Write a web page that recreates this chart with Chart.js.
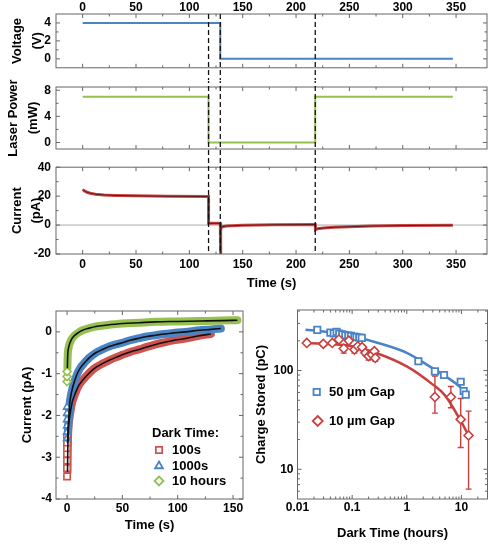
<!DOCTYPE html>
<html><head><meta charset="utf-8">
<script src="https://cdn.jsdelivr.net/npm/chart.js@4.4.1/dist/chart.umd.min.js"></script>
<style>
html,body{margin:0;padding:0;background:#fff}
body{width:500px;height:550px;position:relative;overflow:hidden}
canvas{position:absolute}
</style></head><body>
<canvas id="c1" width="500" height="80" style="left:0;top:0"></canvas>
<canvas id="c2" width="500" height="100" style="left:0;top:70px"></canvas>
<canvas id="c3" width="500" height="140" style="left:0;top:155px"></canvas>
<canvas id="c4" width="250" height="255" style="left:0;top:295px"></canvas>
<canvas id="c5" width="250" height="255" style="left:250px;top:295px"></canvas>
<script>
// ---------------- DATA ----------------
const timeTicks = [0, 50, 100, 150, 200, 250, 300, 350];
const timeMinor = [25, 75, 125, 175, 225, 275, 325];
const switchTimes = [118, 129, 218];

const voltT = [0, 129, 129, 347];
const voltV = [4, 4, 0, 0];

const laserT = [0, 118, 118, 218, 218, 347];
const laserV = [7, 7, 0, 0, 7, 7];

const curT = [0, 3, 7, 12, 20, 30, 50, 80, 118, 118, 129, 129.1, 129.6, 130.5, 135, 150, 180, 218, 218.2, 220, 226, 236, 250, 270, 300, 347];
const curV = [24.5, 23, 22, 21.3, 20.8, 20.5, 20.2, 19.9, 19.7, 1.2, 1.2, -22, -3, -1.1, -0.6, -0.2, 0.2, 0.4, -3.2, -2.5, -2, -1.5, -1.1, -0.7, -0.35, -0.1];

// bottom-left: decay currents
const darkT = [0, 50, 100, 150];
const red0 = [-3.46, -3.26, -3.08, -2.92, -2.78, -2.65, -2.52];
const redT = [0.4, 0.6, 0.9, 1.4, 2.2, 3.3, 4.5, 6.3, 8.5, 10.9, 14, 17, 21, 26, 32, 38, 44, 50, 57, 65, 72, 80, 88, 95, 107, 118, 130];
const redV = [-3.35, -2.9, -2.5, -2.25, -2.05, -1.87, -1.7, -1.55, -1.4, -1.27, -1.16, -1.07, -0.96, -0.85, -0.76, -0.68, -0.61, -0.55, -0.48, -0.42, -0.36, -0.3, -0.25, -0.21, -0.16, -0.1, -0.05];
const blue0 = [-2.55, -2.4, -2.25, -2.1, -1.95, -1.8];
const blueT = [0.4, 0.7, 1.2, 1.8, 2.4, 3.5, 4.9, 7, 9.4, 12, 15.4, 20, 26, 32, 38, 44, 50, 57, 65, 72, 80, 88, 95, 107, 120, 130, 139];
const blueV = [-2.66, -2.4, -2.19, -1.93, -1.71, -1.52, -1.35, -1.16, -0.99, -0.86, -0.75, -0.62, -0.5, -0.42, -0.35, -0.3, -0.26, -0.2, -0.15, -0.11, -0.08, -0.05, -0.03, 0, 0.04, 0.06, 0.08];
const green0 = [-1.19, -1.07, -0.95];
const greenT = [0.3, 0.6, 1.2, 2.4, 4, 6.3, 10, 14, 20, 26, 35, 50, 65, 80, 100, 120, 140, 154];
const greenV = [-0.87, -0.55, -0.4, -0.28, -0.18, -0.1, -0.02, 0.04, 0.09, 0.13, 0.16, 0.2, 0.22, 0.24, 0.25, 0.26, 0.27, 0.28];

// bottom-right: charge stored
const gapX = [0.023, 0.04, 0.046, 0.052, 0.058, 0.066, 0.075, 0.085, 0.095, 0.11, 0.12, 0.135, 0.15, 1.63, 3.27, 4.8, 9.7, 11, 12];
const gap50 = [258, 242, 238, 246, 236, 232, 228, 226, 224, 220, 218, 216, 214, 124, 98, 90, 77, 62, 57];
const fit50X = [0.014, 0.03, 0.1, 0.3, 1, 3, 5, 10, 13.5];
const fit50Y = [259, 248, 222, 190, 151, 105, 88, 66, 53];
const gap10X = [0.0148, 0.0297, 0.0433, 0.0573, 0.0703, 0.087, 0.11, 0.127, 0.152, 0.175, 0.2, 0.23, 0.255, 0.265, 3.27, 6.4, 9.7, 13.5];
const gap10 = [190, 186, 190, 206, 167, 201, 163, 176, 172, 151, 140, 145, 157, 134, 54, 54, 32, 22];
const gap10Lo = [181, 178, 182, 197, 150, 191, 150, 167, 163, 142, 128, 136, 148, 124, 37, 42, 16.6, 6.3];
const gap10Hi = [199, 194, 198, 215, 183, 211, 176, 185, 181, 160, 152, 154, 166, 145, 88, 69, 52, 38.8];
const fit10X = [0.013, 0.03, 0.1, 0.3, 1, 3, 5, 10, 13.5];
const fit10Y = [190, 187, 176, 148, 110, 72, 56, 30, 22];
const logXTicks = [0.01, 0.1, 1, 10];
const logXMinor = [0.02,0.03,0.04,0.05,0.06,0.07,0.08,0.09,0.2,0.3,0.4,0.5,0.6,0.7,0.8,0.9,2,3,4,5,6,7,8,9,20];
const logYTicks = [10, 100];
const logYMinor = [6,7,8,9,20,30,40,50,60,70,80,90,200,300,400];

// ---------------- HELPERS ----------------
const FONT = "'Liberation Sans', Arial, Helvetica, sans-serif";
const pts = (xs, ys) => xs.map((x, i) => ({x: x, y: ys[i]}));
const col = (x, ys) => ys.map(y => ({x: x, y: y}));
const setTicks = vals => s => { s.ticks = vals.map(v => ({value: v})); };
const tickFont = {family: FONT, size: 12, weight: 'bold'};
const titleFont = {family: FONT, size: 13, weight: 'bold'};

const RED = '#c8403f', BLUE = '#4a84c6', GREEN = '#96c150';

function drawMarker(ctx, style, color, x, y, r) {
  ctx.save();
  ctx.strokeStyle = color; ctx.fillStyle = '#fff'; ctx.lineWidth = 1.8;
  ctx.beginPath();
  if (style === 'rect') { const s = r * Math.SQRT1_2; ctx.rect(x - s, y - s, 2 * s, 2 * s); }
  else if (style === 'triangle') { ctx.moveTo(x, y - r); ctx.lineTo(x + r * 0.866, y + r * 0.5); ctx.lineTo(x - r * 0.866, y + r * 0.5); ctx.closePath(); }
  else { ctx.moveTo(x, y - r); ctx.lineTo(x + r, y); ctx.lineTo(x, y + r); ctx.lineTo(x - r, y); ctx.closePath(); }
  ctx.fill(); ctx.stroke();
  ctx.restore();
}

const framePlugin = {
  id: 'frame',
  beforeDatasetsDraw(chart, args, o) {
    if (o.zero === undefined) return;
    const {ctx, chartArea: a} = chart;
    const y = chart.scales.y.getPixelForValue(o.zero);
    ctx.save(); ctx.strokeStyle = '#aaa'; ctx.lineWidth = 1;
    ctx.beginPath(); ctx.moveTo(a.left, y); ctx.lineTo(a.right, y); ctx.stroke(); ctx.restore();
  },
  afterDatasetsDraw(chart, args, o) {
    const {ctx, chartArea: a} = chart, sx = chart.scales.x, sy = chart.scales.y;
    ctx.save(); ctx.strokeStyle = '#666'; ctx.lineWidth = 1;
    ctx.beginPath();
    const tx = (vals, len) => vals.forEach(v => { const x = sx.getPixelForValue(v);
      ctx.moveTo(x, a.bottom); ctx.lineTo(x, a.bottom - len); ctx.moveTo(x, a.top); ctx.lineTo(x, a.top + len); });
    const ty = (vals, len) => vals.forEach(v => { const y = sy.getPixelForValue(v);
      ctx.moveTo(a.left, y); ctx.lineTo(a.left + len, y); ctx.moveTo(a.right, y); ctx.lineTo(a.right - len, y); });
    tx(o.xMajor || [], 4); tx(o.xMinor || [], 2.5); ty(o.yMajor || [], 4); ty(o.yMinor || [], 2.5);
    ctx.stroke();
    ctx.strokeRect(a.left, a.top, a.right - a.left, a.bottom - a.top);
    ctx.restore();
  }
};

const dashPlugin = {
  id: 'dashes',
  afterDatasetsDraw(chart, args, o) {
    if (!o.xs) return;
    const ctx = chart.ctx, sx = chart.scales.x;
    ctx.save(); ctx.strokeStyle = '#111'; ctx.lineWidth = 1.3;
    ctx.setLineDash([5, 3]); ctx.lineDashOffset = o.phase || 0;
    o.xs.forEach(v => { const x = sx.getPixelForValue(v);
      ctx.beginPath(); ctx.moveTo(x, o.from); ctx.lineTo(x, o.to); ctx.stroke(); });
    ctx.restore();
  }
};

const errPlugin = {
  id: 'errbars',
  beforeDatasetsDraw(chart, args, o) {
    if (!o.x) return;
    const ctx = chart.ctx, sx = chart.scales.x, sy = chart.scales.y, a = chart.chartArea;
    ctx.save(); ctx.strokeStyle = o.color; ctx.lineWidth = 1.4;
    ctx.beginPath(); ctx.rect(a.left, a.top, a.right - a.left, a.bottom - a.top); ctx.clip();
    ctx.beginPath();
    o.x.forEach((xv, i) => {
      if (o.lo[i] === o.hi[i]) return;
      const x = sx.getPixelForValue(xv), y1 = sy.getPixelForValue(o.lo[i]), y2 = sy.getPixelForValue(o.hi[i]);
      ctx.moveTo(x, y1); ctx.lineTo(x, y2);
      ctx.moveTo(x - 3, y1); ctx.lineTo(x + 3, y1);
      ctx.moveTo(x - 3, y2); ctx.lineTo(x + 3, y2);
    });
    ctx.stroke(); ctx.restore();
  }
};

const legendPlugin = {
  id: 'legendBox',
  afterDatasetsDraw(chart, args, o) {
    if (!o.items) return;
    const ctx = chart.ctx;
    ctx.save(); ctx.font = 'bold 13px ' + FONT; ctx.textBaseline = 'middle'; ctx.fillStyle = '#000';
    o.items.forEach(it => {
      if (it.marker) drawMarker(ctx, it.marker, it.color, it.mx, it.y, it.r);
      ctx.fillStyle = '#000'; ctx.fillText(it.text, it.x, it.y);
    });
    ctx.restore();
  }
};

const plugins = [framePlugin, dashPlugin, errPlugin, legendPlugin];

function baseScale(extra) {
  return Object.assign({
    grid: {display: false, drawTicks: false},
    border: {display: false},
  }, extra);
}

function lineDs(data, color, width, order) {
  return {data: data, showLine: true, borderColor: color, backgroundColor: color, borderWidth: width,
    pointRadius: 0, tension: 0, order: order || 0};
}

function common(padding, scales, pluginOpts) {
  return {
    responsive: false, animation: false, devicePixelRatio: 1,
    layout: {padding: padding},
    plugins: Object.assign({legend: {display: false}, tooltip: {enabled: false}}, pluginOpts),
    scales: scales,
    events: []
  };
}

// ---------------- PANEL 1: Voltage ----------------
new Chart(document.getElementById('c1'), {
  type: 'scatter',
  data: {datasets: [lineDs(pts(voltT, voltV), BLUE, 2)]},
  options: common({left: 0, right: 13, top: 0, bottom: 6}, {
    x: baseScale({type: 'linear', position: 'top', min: -25, max: 379,
      afterBuildTicks: setTicks(timeTicks), afterFit: s => { s.height = 14; },
      ticks: {font: tickFont, color: '#000', padding: -1, maxRotation: 0, autoSkip: false}}),
    y: baseScale({type: 'linear', min: -1, max: 5,
      afterBuildTicks: setTicks([0, 2, 4]), afterFit: s => { s.width = 56; },
      ticks: {font: tickFont, color: '#000', padding: 5},
      title: {display: true, text: ['Voltage', '(V)'], color: '#000',
        font: {family: FONT, size: 13, weight: 'bold', lineHeight: 1.5}, padding: {top: 7.75, bottom: 0}}})
  }, {
    frame: {xMajor: timeTicks, xMinor: timeMinor, yMajor: [0, 2, 4], yMinor: [1, 3]},
    dashes: {xs: switchTimes, from: 14, to: 81, phase: 0}
  }),
  plugins: plugins
});

// ---------------- PANEL 2: Laser power ----------------
new Chart(document.getElementById('c2'), {
  type: 'scatter',
  data: {datasets: [lineDs(pts(laserT, laserV), GREEN, 2)]},
  options: common({left: 0, right: 13, top: 17, bottom: 21}, {
    x: baseScale({type: 'linear', display: false, min: -25, max: 379}),
    y: baseScale({type: 'linear', min: -1, max: 8.5,
      afterBuildTicks: setTicks([0, 4, 8]), afterFit: s => { s.width = 56; },
      ticks: {font: tickFont, color: '#000', padding: 5},
      title: {display: true, text: ['Laser Power', '(mW)'], color: '#000',
        font: {family: FONT, size: 13, weight: 'bold', lineHeight: 1.5}, padding: {top: 4, bottom: 0}}})
  }, {
    frame: {xMajor: timeTicks, xMinor: timeMinor, yMajor: [0, 4, 8], yMinor: [2, 6]},
    dashes: {xs: switchTimes, from: 11, to: 86, phase: 67}
  }),
  plugins: plugins
});

// ---------------- PANEL 3: Current ----------------
new Chart(document.getElementById('c3'), {
  type: 'scatter',
  data: {datasets: [
    lineDs(pts(curT, curV), '#5c1414', 0.9, 0),
    lineDs(pts(curT, curV), '#c94545', 3, 1)
  ]},
  options: common({left: 0, right: 13, top: 8, bottom: 0}, {
    x: baseScale({type: 'linear', position: 'bottom', min: -25, max: 379,
      afterBuildTicks: setTicks(timeTicks), afterFit: s => { s.height = 41; },
      ticks: {font: tickFont, color: '#000', padding: 3.5, maxRotation: 0, autoSkip: false},
      title: {display: true, text: 'Time (s)', color: '#000', font: titleFont, padding: {top: 0, bottom: 4.2}}}),
    y: baseScale({type: 'linear', min: -20, max: 40,
      afterBuildTicks: setTicks([-20, 0, 20, 40]), afterFit: s => { s.width = 56; },
      ticks: {font: tickFont, color: '#000', padding: 5},
      title: {display: true, text: ['Current', '(pA)'], color: '#000',
        font: {family: FONT, size: 13, weight: 'bold', lineHeight: 1.5}, padding: {top: 7.25, bottom: 0}}})
  }, {
    frame: {xMajor: timeTicks, xMinor: timeMinor, yMajor: [-20, 0, 20, 40], yMinor: [-10, 10, 30], zero: 0},
    dashes: {xs: switchTimes, from: 1, to: 99, phase: 142}
  }),
  plugins: plugins
});

// ---------------- BOTTOM LEFT: decay currents ----------------
function bandSet(t, v, c0, color, style, r) {
  return [
    {data: col(0, c0), showLine: false, pointStyle: style, pointRadius: r, pointBorderWidth: 1.6,
      pointBorderColor: color, pointBackgroundColor: '#fff', order: 3},
    {data: pts(t, v), showLine: true, borderColor: color, borderWidth: 8, pointRadius: 0,
      cubicInterpolationMode: 'monotone', order: 4, borderCapStyle: 'round'},
    {data: pts(t, v), showLine: true, borderColor: '#111', borderWidth: 1.6, pointRadius: 0,
      cubicInterpolationMode: 'monotone', order: 0}
  ];
}
new Chart(document.getElementById('c4'), {
  type: 'scatter',
  data: {datasets: [].concat(
    bandSet(greenT, greenV, green0, GREEN, 'rectRot', 4),
    bandSet(blueT, blueV, blue0, BLUE, 'triangle', 4),
    bandSet(redT, redV, red0, '#d05350', 'rect', 4.5)
  )},
  options: common({left: 0, right: 7, top: 16, bottom: 0}, {
    x: baseScale({type: 'linear', position: 'bottom', min: -10, max: 159,
      afterBuildTicks: setTicks(darkT), afterFit: s => { s.height = 51; },
      ticks: {font: tickFont, color: '#000', padding: 2, maxRotation: 0, autoSkip: false},
      title: {display: true, text: 'Time (s)', color: '#000', font: titleFont, padding: {top: 0, bottom: 17}}}),
    y: baseScale({type: 'linear', min: -4, max: 0.5,
      afterBuildTicks: setTicks([-4, -3, -2, -1, 0]), afterFit: s => { s.width = 56; },
      ticks: {font: tickFont, color: '#000', padding: 4},
      title: {display: true, text: 'Current (pA)', color: '#000', font: titleFont, padding: {top: 20, bottom: 0}}})
  }, {
    frame: {xMajor: darkT, xMinor: [25, 75, 125], yMajor: [-4, -3, -2, -1, 0], yMinor: [-3.5, -2.5, -1.5, -0.5]},
    legendBox: {items: [
      {text: 'Dark Time:', x: 152, y: 138},
      {text: '100s', x: 172, y: 155, marker: 'rect', color: '#d05350', mx: 159, r: 4.5},
      {text: '1000s', x: 172, y: 171, marker: 'triangle', color: BLUE, mx: 159, r: 4.5},
      {text: '10 hours', x: 172, y: 186, marker: 'diamond', color: GREEN, mx: 159, r: 4.5}
    ]}
  }),
  plugins: plugins
});

// ---------------- BOTTOM RIGHT: charge stored ----------------
new Chart(document.getElementById('c5'), {
  type: 'scatter',
  data: {datasets: [
    {data: pts(gapX, gap50), showLine: false, pointStyle: 'rect', pointRadius: 4.5, pointBorderWidth: 1.8,
      pointBorderColor: BLUE, pointBackgroundColor: '#fff', order: 1},
    lineDs(pts(fit50X, fit50Y), BLUE, 2.5, 3),
    {data: pts(gap10X, gap10), showLine: false, pointStyle: 'rectRot', pointRadius: 4.5, pointBorderWidth: 1.6,
      pointBorderColor: RED, pointBackgroundColor: '#fff', order: 0},
    lineDs(pts(fit10X, fit10Y), RED, 2.5, 2)
  ].map(d => { if (d.showLine) d.cubicInterpolationMode = 'monotone'; return d; })},
  options: common({left: 0, right: 12.5, top: 15, bottom: 0}, {
    x: baseScale({type: 'logarithmic', position: 'bottom', min: 0.01, max: 30,
      afterBuildTicks: setTicks(logXTicks), afterFit: s => { s.height = 51; },
      ticks: {font: tickFont, color: '#000', padding: 1, maxRotation: 0, autoSkip: false, callback: v => String(v)},
      title: {display: true, text: 'Dark Time (hours)', color: '#000', font: titleFont, padding: {top: 0, bottom: 9}}}),
    y: baseScale({type: 'logarithmic', min: 5, max: 410,
      afterBuildTicks: setTicks(logYTicks), afterFit: s => { s.width = 47.5; },
      ticks: {font: tickFont, color: '#000', padding: 4, callback: v => String(v)},
      title: {display: true, text: 'Charge Stored (pC)', color: '#000', font: titleFont, padding: {top: 4, bottom: 0}}})
  }, {
    frame: {xMajor: logXTicks, xMinor: logXMinor, yMajor: logYTicks, yMinor: logYMinor},
    errbars: {x: gap10X, lo: gap10Lo, hi: gap10Hi, color: RED},
    legendBox: {items: [
      {text: '50 \u00b5m Gap', x: 79, y: 97, marker: 'rect', color: BLUE, mx: 66.7, r: 4.5},
      {text: '10 \u00b5m Gap', x: 79, y: 126, marker: 'diamond', color: RED, mx: 67.7, r: 5}
    ]}
  }),
  plugins: plugins
});
</script>
</body></html>
